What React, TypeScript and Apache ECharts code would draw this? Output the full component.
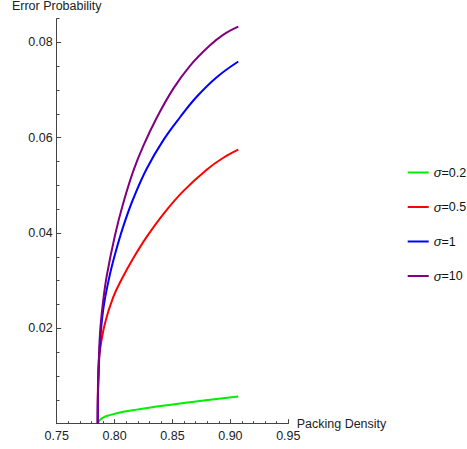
import React, { useEffect, useRef } from "react";
import * as echarts from "echarts";

const seriesNames = ["σ=0.2", "σ=0.5", "σ=1", "σ=10"];
const seriesColors = ["#00ee00", "#ff0000", "#0000ff", "#800080"];

const densityGreen = [0.7854, 0.7874, 0.7908, 0.796, 0.8075, 0.8364, 0.8651, 0.9068];
const errorGreen = [0, 0.0008, 0.0014, 0.0018, 0.0025, 0.0036, 0.0045, 0.0057];

const densityRed = [0.7854, 0.7859, 0.7874, 0.7917, 0.7989, 0.8061, 0.8161, 0.8277, 0.8421, 0.8593, 0.8795, 0.8939, 0.9068];
const errorRed = [0, 0.0113, 0.0155, 0.0211, 0.0266, 0.0303, 0.0347, 0.0392, 0.044, 0.0488, 0.0533, 0.0558, 0.0575];

const densityBlue = [0.7854, 0.7856, 0.7862, 0.7874, 0.7902, 0.7952, 0.8003, 0.8075, 0.8161, 0.8277, 0.8421, 0.8565, 0.8709, 0.8882, 0.9068];
const errorBlue = [0, 0.0058, 0.0102, 0.017, 0.024, 0.0305, 0.0355, 0.0414, 0.0472, 0.0535, 0.0595, 0.0643, 0.0686, 0.0727, 0.076];

const densityPurple = [0.7854, 0.7856, 0.7861, 0.7874, 0.79, 0.7932, 0.8003, 0.8075, 0.8161, 0.8248, 0.8364, 0.8507, 0.8651, 0.8824, 0.8937, 0.9068];
const errorPurple = [0, 0.006, 0.011, 0.019, 0.0255, 0.031, 0.0395, 0.0463, 0.053, 0.0583, 0.0642, 0.0703, 0.0751, 0.0794, 0.0816, 0.0833];

const xTickLabels = [0.75, 0.8, 0.85, 0.9, 0.95];
const yTickLabels = [0.02, 0.04, 0.06, 0.08];

const FONT = "'Liberation Sans', Arial, sans-serif";

function zip(xs: number[], ys: number[]) {
  return xs.map((x, i) => [x, ys[i]]);
}

export default function App() {
  const ref = useRef<HTMLDivElement>(null);
  useEffect(() => {
    if (!ref.current) return;
    const chart = echarts.init(ref.current, undefined, { renderer: "svg" });
    const allData = [
      zip(densityGreen, errorGreen),
      zip(densityRed, errorRed),
      zip(densityBlue, errorBlue),
      zip(densityPurple, errorPurple),
    ];
    const axisColor = "#444";
    const labelColor = "#222";
    chart.setOption({
      animation: false,
      textStyle: { fontFamily: FONT },
      grid: { left: 56.7, right: 178.7, top: 18.6, bottom: 25.3, containLabel: false, outerBoundsMode: "none" },
      legend: {
        orient: "vertical",
        left: 402.7,
        top: 160,
        itemWidth: 21,
        itemHeight: 2,
        itemGap: 19.5,
        icon: "rect",
        data: seriesNames,
        formatter: (name: string) => "{i|σ}" + name.slice(1),
        textStyle: {
          fontFamily: FONT,
          fontSize: 12.5,
          color: "#111",
          lineHeight: 15,
          rich: {
            i: { fontStyle: "italic", fontSize: 13, fontFamily: FONT, color: "#111" },
          },
        },
      },
      xAxis: {
        type: "value",
        min: 0.75,
        max: 0.95,
        interval: 0.05,
        name: "Packing Density",
        nameLocation: "end",
        nameGap: 8.4,
        nameMoveOverlap: false,
        nameTextStyle: { fontSize: 12.5, color: labelColor, fontFamily: FONT },
        axisLine: { show: true, onZero: false, lineStyle: { color: axisColor, width: 1 } },
        axisTick: { show: true, inside: true, length: 4.5, lineStyle: { color: axisColor } },
        minorTick: { show: true, splitNumber: 5, length: 2.5, lineStyle: { color: axisColor } },
        splitLine: { show: false },
        minorSplitLine: { show: false },
        axisLabel: {
          fontSize: 12.5,
          color: labelColor,
          margin: 6,
          fontFamily: FONT,
          formatter: (v: number) => {
            const hit = xTickLabels.find((t) => Math.abs(t - v) < 1e-6);
            return hit !== undefined ? hit.toFixed(2) : "";
          },
        },
      },
      yAxis: [
        {
          type: "value",
          min: 0,
          max: 0.085,
          interval: 0.005,
          name: "Error Probability",
          nameLocation: "end",
          nameGap: 6,
          nameMoveOverlap: false,
          nameTextStyle: { fontSize: 12.5, color: labelColor, fontFamily: FONT },
          axisLine: { show: true, onZero: false, lineStyle: { color: axisColor, width: 1 } },
          axisTick: { show: true, inside: true, length: 2.8, lineStyle: { color: axisColor } },
          splitLine: { show: false },
          axisLabel: {
            fontSize: 12.5,
            color: labelColor,
            margin: 4,
            fontFamily: FONT,
            formatter: (v: number) => {
              const hit = yTickLabels.find((t) => Math.abs(t - v) < 1e-7);
              return hit !== undefined ? hit.toFixed(2) : "";
            },
          },
        },
        {
          type: "value",
          min: 0,
          max: 0.085,
          interval: 0.005,
          position: "left",
          axisLine: { show: false },
          axisTick: {
            show: true,
            inside: true,
            length: 4.5,
            customValues: yTickLabels,
            lineStyle: { color: axisColor },
          },
          axisLabel: { show: false },
          splitLine: { show: false },
        },
      ],
      series: allData.map((d, i) => ({
        name: seriesNames[i],
        type: "line",
        data: d,
        yAxisIndex: 0,
        showSymbol: false,
        symbol: "none",
        smooth: 0.4,
        lineStyle: { color: seriesColors[i], width: 2 },
        itemStyle: { color: seriesColors[i] },
      })),
    });
    return () => chart.dispose();
  }, []);
  return (
    <div
      ref={ref}
      style={{ position: "fixed", left: 0, top: 0, width: 467, height: 449, background: "#fff" }}
    />
  );
}
